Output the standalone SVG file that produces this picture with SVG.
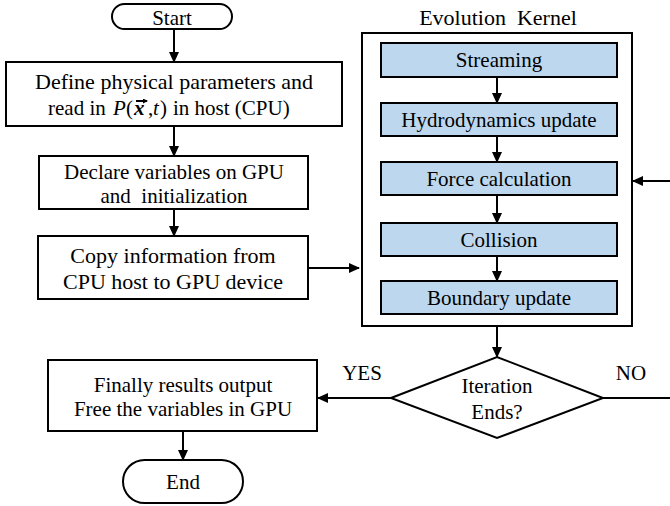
<svg xmlns="http://www.w3.org/2000/svg" width="670" height="506" viewBox="0 0 670 506">
<style>
text{font-family:"Liberation Serif","Times New Roman",serif;font-size:21px;fill:#000;text-anchor:middle}
.box{fill:#fff;stroke:#000;stroke-width:2}
.step{fill:#BDD7EE;stroke:#000;stroke-width:2}
.ln{stroke:#000;stroke-width:2;fill:none}
.big{font-size:22px}
</style>
<defs>
<marker id="ah" markerWidth="11" markerHeight="10" refX="10" refY="5" orient="auto" markerUnits="userSpaceOnUse" viewBox="0 0 11 10"><path d="M0,0 L11,5 L0,10 z" fill="#000"/></marker>
<marker id="sa" markerWidth="5" markerHeight="5" refX="4" refY="2.5" orient="auto" markerUnits="userSpaceOnUse" viewBox="0 0 5 5"><path d="M0,0 L5,2.5 L0,5 z" fill="#000"/></marker>
</defs>
<g id="start">
<rect class="box" x="112" y="4" width="120" height="25" rx="12.5"/>
<text x="172" y="24.5">Start</text>
</g>
<g id="define">
<rect class="box" x="6" y="62" width="336" height="64"/>
<text class="big" x="174" y="89">Define physical parameters and</text>
<text style="text-anchor:start" y="115"><tspan x="48">read in</tspan><tspan x="113" font-style="italic">P</tspan><tspan x="126">(</tspan><tspan x="134" font-style="italic" font-weight="bold">x</tspan><tspan x="148">,</tspan><tspan x="153" font-style="italic">t</tspan><tspan x="160">)</tspan><tspan x="173">in host (CPU)</tspan></text>
<path class="ln" d="M136,101 H147" stroke-width="1.3" marker-end="url(#sa)"/>
</g>
<g id="declare">
<rect class="box" x="39" y="156" width="269" height="53"/>
<text x="174" y="179">Declare variables on GPU</text>
<text x="174" y="203">and&#160; initialization</text>
</g>
<g id="copy">
<rect class="box" x="38" y="236" width="270" height="63"/>
<text class="big" x="173" y="263">Copy information from</text>
<text class="big" x="173" y="289">CPU host to GPU device</text>
</g>
<g id="kernel">
<text class="big" x="498" y="25">Evolution&#160; Kernel</text>
<rect class="box" x="362" y="33" width="270" height="293"/>
</g>
<g id="streaming">
<rect class="step" x="381" y="43" width="236" height="34"/>
<text x="499" y="67">Streaming</text>
</g>
<g id="hydro">
<rect class="step" x="381" y="103" width="236" height="33"/>
<text x="499" y="127">Hydrodynamics update</text>
</g>
<g id="force">
<rect class="step" x="381" y="162" width="236" height="33"/>
<text x="499" y="186">Force calculation</text>
</g>
<g id="collision">
<rect class="step" x="381" y="223" width="236" height="33"/>
<text x="499" y="247">Collision</text>
</g>
<g id="boundary">
<rect class="step" x="381" y="281" width="236" height="33"/>
<text x="499" y="305">Boundary update</text>
</g>
<g id="decision">
<polygon class="box" points="391,398 497,357 603,398 497,438"/>
<text x="497" y="393">Iteration</text>
<text x="497" y="419">Ends?</text>
</g>
<g id="final">
<rect class="box" x="48" y="360" width="269" height="71"/>
<text x="183" y="392">Finally results output</text>
<text x="183" y="416">Free the variables in GPU</text>
</g>
<g id="end">
<rect class="box" x="123" y="460" width="120" height="43" rx="21.5"/>
<text x="183" y="489">End</text>
</g>
<g id="connectors">
<line class="ln" x1="174" y1="29" x2="174" y2="62" marker-end="url(#ah)"/>
<line class="ln" x1="174" y1="126" x2="174" y2="156" marker-end="url(#ah)"/>
<line class="ln" x1="174" y1="209" x2="174" y2="236" marker-end="url(#ah)"/>
<line class="ln" x1="308" y1="268" x2="359" y2="268" marker-end="url(#ah)"/>
<line class="ln" x1="497" y1="77" x2="497" y2="103" marker-end="url(#ah)"/>
<line class="ln" x1="497" y1="136" x2="497" y2="162" marker-end="url(#ah)"/>
<line class="ln" x1="497" y1="195" x2="497" y2="223" marker-end="url(#ah)"/>
<line class="ln" x1="497" y1="256" x2="497" y2="281" marker-end="url(#ah)"/>
<line class="ln" x1="670" y1="181" x2="633" y2="181" marker-end="url(#ah)"/>
<line class="ln" x1="497" y1="326" x2="497" y2="357" marker-end="url(#ah)"/>
<line class="ln" x1="391" y1="398" x2="318" y2="398" marker-end="url(#ah)"/>
<line class="ln" x1="603" y1="398" x2="670" y2="398"/>
<line class="ln" x1="183" y1="431" x2="183" y2="460" marker-end="url(#ah)"/>
<text x="362" y="380">YES</text>
<text x="631" y="380">NO</text>
</g>
</svg>
